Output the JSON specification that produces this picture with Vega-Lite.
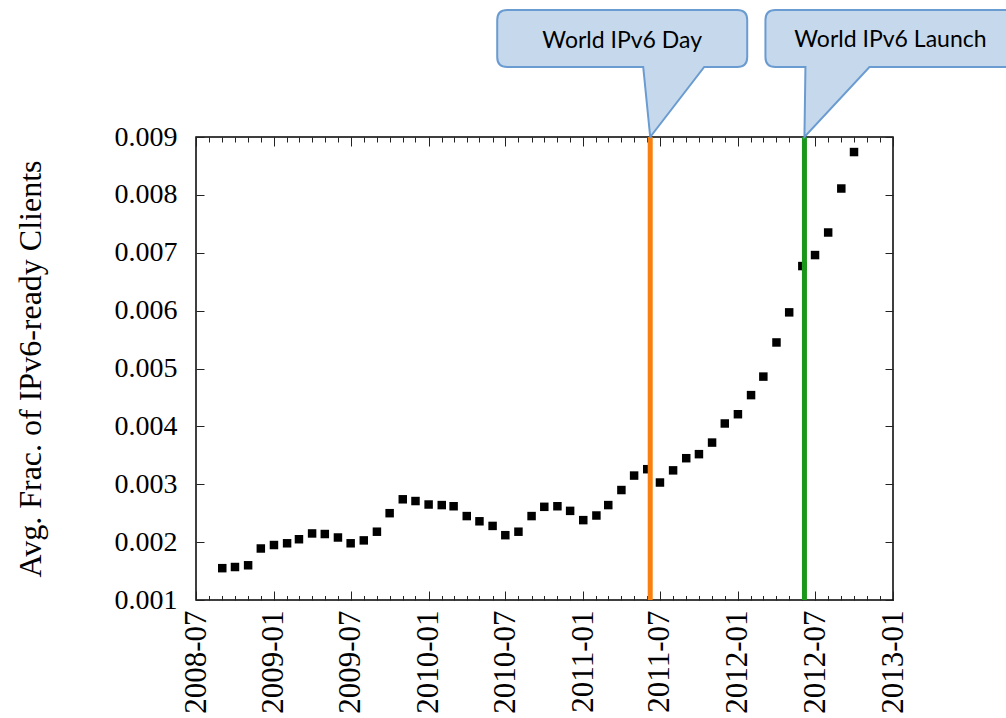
{
  "$schema": "https://vega.github.io/schema/vega-lite/v6.json",
  "width": 697,
  "height": 463,
  "autosize": {"type": "none"},
  "padding": {"left": 196, "top": 137, "right": 113, "bottom": 118},
  "background": "white",
  "config": {
    "view": {"stroke": "#000", "strokeWidth": 1.5},
    "axis": {
      "grid": false,
      "domain": false,
      "labelFont": "Liberation Serif",
      "titleFont": "Liberation Serif",
      "labelColor": "#000",
      "titleColor": "#000",
      "tickColor": "#222",
      "tickWidth": 1,
      "labelFlush": false,
      "labelOverlap": false,
      "labelBound": false,
      "titleFontWeight": "normal"
    }
  },
  "datasets": {
    "ipv6": [
      {"month": "2008-09-01", "frac": 0.00155},
      {"month": "2008-10-01", "frac": 0.00157},
      {"month": "2008-11-01", "frac": 0.00160},
      {"month": "2008-12-01", "frac": 0.00189},
      {"month": "2009-01-01", "frac": 0.00195},
      {"month": "2009-02-01", "frac": 0.00198},
      {"month": "2009-03-01", "frac": 0.00205},
      {"month": "2009-04-01", "frac": 0.00215},
      {"month": "2009-05-01", "frac": 0.00214},
      {"month": "2009-06-01", "frac": 0.00208},
      {"month": "2009-07-01", "frac": 0.00198},
      {"month": "2009-08-01", "frac": 0.00203},
      {"month": "2009-09-01", "frac": 0.00218},
      {"month": "2009-10-01", "frac": 0.00250},
      {"month": "2009-11-01", "frac": 0.00274},
      {"month": "2009-12-01", "frac": 0.00271},
      {"month": "2010-01-01", "frac": 0.00265},
      {"month": "2010-02-01", "frac": 0.00264},
      {"month": "2010-03-01", "frac": 0.00262},
      {"month": "2010-04-01", "frac": 0.00245},
      {"month": "2010-05-01", "frac": 0.00236},
      {"month": "2010-06-01", "frac": 0.00228},
      {"month": "2010-07-01", "frac": 0.00212},
      {"month": "2010-08-01", "frac": 0.00218},
      {"month": "2010-09-01", "frac": 0.00245},
      {"month": "2010-10-01", "frac": 0.00261},
      {"month": "2010-11-01", "frac": 0.00262},
      {"month": "2010-12-01", "frac": 0.00254},
      {"month": "2011-01-01", "frac": 0.00238},
      {"month": "2011-02-01", "frac": 0.00246},
      {"month": "2011-03-01", "frac": 0.00264},
      {"month": "2011-04-01", "frac": 0.00290},
      {"month": "2011-05-01", "frac": 0.00315},
      {"month": "2011-06-01", "frac": 0.00326},
      {"month": "2011-07-01", "frac": 0.00303},
      {"month": "2011-08-01", "frac": 0.00324},
      {"month": "2011-09-01", "frac": 0.00345},
      {"month": "2011-10-01", "frac": 0.00352},
      {"month": "2011-11-01", "frac": 0.00372},
      {"month": "2011-12-01", "frac": 0.00405},
      {"month": "2012-01-01", "frac": 0.00421},
      {"month": "2012-02-01", "frac": 0.00454},
      {"month": "2012-03-01", "frac": 0.00486},
      {"month": "2012-04-01", "frac": 0.00545},
      {"month": "2012-05-01", "frac": 0.00597},
      {"month": "2012-06-01", "frac": 0.00677},
      {"month": "2012-07-01", "frac": 0.00696},
      {"month": "2012-08-01", "frac": 0.00735},
      {"month": "2012-09-01", "frac": 0.00811},
      {"month": "2012-10-01", "frac": 0.00874}
    ],
    "events": [
      {"event": "World IPv6 Day", "date": "2011-06-08"},
      {"event": "World IPv6 Launch", "date": "2012-06-06"}
    ]
  },
  "layer": [
    {
      "data": {"name": "ipv6"},
      "mark": {"type": "point", "shape": "square", "filled": true, "size": 72, "color": "#000", "opacity": 1},
      "encoding": {
        "x": {
          "field": "month", "type": "temporal",
          "scale": {"type": "utc", "nice": false, "domain": [{"year": 2008, "month": 7, "date": 1, "utc": true}, {"year": 2013, "month": 1, "date": 1, "utc": true}]},
          "axis": {"orient": "bottom", "ticks": false, "title": null, "format": "%Y-%m", "tickCount": {"interval": "month", "step": 6}, "labelAngle": 270, "labelAlign": "right", "labelBaseline": "middle", "labelFontSize": 31, "labelPadding": 10}
        },
        "y": {
          "field": "frac", "type": "quantitative",
          "scale": {"domain": [0.001, 0.009], "nice": false, "zero": false},
          "axis": {"orient": "left", "ticks": false, "values": [0.001, 0.002, 0.003, 0.004, 0.005, 0.006, 0.007, 0.008, 0.009], "format": ".3f", "labelFontSize": 28, "labelPadding": 19, "labelBaseline": "middle", "title": "Avg. Frac. of IPv6-ready Clients", "titleFontSize": 32, "titleAngle": 270, "titleX": -166, "titleY": 231.5, "titleAlign": "center", "titleBaseline": "middle"}
        }
      }
    },
    {
      "data": {"name": "ipv6"},
      "mark": {"type": "point", "opacity": 0},
      "encoding": {
        "x": {
          "field": "month", "type": "temporal",
          "scale": {"type": "utc", "nice": false, "domain": [{"year": 2008, "month": 7, "date": 1, "utc": true}, {"year": 2013, "month": 1, "date": 1, "utc": true}]},
          "axis": {"orient": "bottom", "labels": false, "title": null, "tickCount": {"interval": "month", "step": 6}, "tickSize": -9}
        },
        "y": {
          "field": "frac", "type": "quantitative",
          "scale": {"domain": [0.001, 0.009], "nice": false, "zero": false},
          "axis": {"orient": "left", "labels": false, "title": null, "values": [0.001, 0.002, 0.003, 0.004, 0.005, 0.006, 0.007, 0.008, 0.009], "tickSize": -8}
        }
      }
    },
    {
      "data": {"name": "ipv6"},
      "mark": {"type": "point", "opacity": 0},
      "encoding": {
        "x": {
          "field": "month", "type": "temporal",
          "scale": {"type": "utc", "nice": false, "domain": [{"year": 2008, "month": 7, "date": 1, "utc": true}, {"year": 2013, "month": 1, "date": 1, "utc": true}]},
          "axis": {"orient": "bottom", "labels": false, "title": null, "tickCount": {"interval": "month", "step": 1}, "tickSize": -4.5}
        },
        "y": {
          "field": "frac", "type": "quantitative",
          "scale": {"domain": [0.001, 0.009], "nice": false, "zero": false},
          "axis": {"orient": "right", "labels": false, "title": null, "values": [0.001, 0.002, 0.003, 0.004, 0.005, 0.006, 0.007, 0.008, 0.009], "tickSize": -8}
        }
      }
    },
    {
      "data": {"name": "ipv6"},
      "mark": {"type": "point", "opacity": 0},
      "encoding": {
        "x": {
          "field": "month", "type": "temporal",
          "scale": {"type": "utc", "nice": false, "domain": [{"year": 2008, "month": 7, "date": 1, "utc": true}, {"year": 2013, "month": 1, "date": 1, "utc": true}]},
          "axis": {"orient": "top", "labels": false, "title": null, "tickCount": {"interval": "month", "step": 6}, "tickSize": -9}
        },
        "y": {
          "field": "frac", "type": "quantitative",
          "scale": {"domain": [0.001, 0.009], "nice": false, "zero": false},
          "axis": null
        }
      }
    },
    {
      "data": {"name": "events"},
      "mark": {"type": "rule", "strokeWidth": 5},
      "encoding": {
        "x": {
          "field": "date", "type": "temporal",
          "scale": {"type": "utc", "nice": false, "domain": [{"year": 2008, "month": 7, "date": 1, "utc": true}, {"year": 2013, "month": 1, "date": 1, "utc": true}]},
          "axis": {"orient": "top", "labels": false, "title": null, "tickCount": {"interval": "month", "step": 1}, "tickSize": -5}
        },
        "color": {"field": "event", "type": "nominal", "scale": {"domain": ["World IPv6 Day", "World IPv6 Launch"], "range": ["#f9800f", "#1a961a"]}, "legend": null}
      }
    },
    {
      "data": {"name": "events"},
      "transform": [{"filter": "datum.event === 'World IPv6 Day'"}],
      "mark": {"type": "point", "filled": true, "fill": "#c6d9ec", "stroke": "#6a9bd1", "strokeWidth": 2, "opacity": 1, "size": 4,
        "shape": "M -143 -127 L 87 -127 Q 97 -127 97 -117 L 97 -80 Q 97 -70 87 -70 L 54 -70 L 0 0 L -7 -70 L -143 -70 Q -153 -70 -153 -80 L -153 -117 Q -153 -127 -143 -127 Z"},
      "encoding": {
        "x": {"field": "date", "type": "temporal", "axis": null, "scale": {"type": "utc", "nice": false, "domain": [{"year": 2008, "month": 7, "date": 1, "utc": true}, {"year": 2013, "month": 1, "date": 1, "utc": true}]}},
        "y": {"datum": 0.009, "type": "quantitative", "axis": null, "scale": {"domain": [0.001, 0.009], "nice": false, "zero": false}}
      }
    },
    {
      "data": {"name": "events"},
      "transform": [{"filter": "datum.event === 'World IPv6 Launch'"}],
      "mark": {"type": "point", "filled": true, "fill": "#c6d9ec", "stroke": "#6a9bd1", "strokeWidth": 2, "opacity": 1, "size": 4,
        "shape": "M -29 -127 L 220 -127 Q 230 -127 230 -117 L 230 -80 Q 230 -70 220 -70 L 65 -70 L 0 0 L 1 -70 L -29 -70 Q -39 -70 -39 -80 L -39 -117 Q -39 -127 -29 -127 Z"},
      "encoding": {
        "x": {"field": "date", "type": "temporal", "axis": null, "scale": {"type": "utc", "nice": false, "domain": [{"year": 2008, "month": 7, "date": 1, "utc": true}, {"year": 2013, "month": 1, "date": 1, "utc": true}]}},
        "y": {"datum": 0.009, "type": "quantitative", "axis": null, "scale": {"domain": [0.001, 0.009], "nice": false, "zero": false}}
      }
    },
    {
      "data": {"name": "events"},
      "transform": [{"filter": "datum.event === 'World IPv6 Day'"}],
      "mark": {"type": "text", "font": "Lato", "fontSize": 23, "color": "#000", "align": "center", "baseline": "middle", "dx": -28, "dy": -96},
      "encoding": {
        "x": {"field": "date", "type": "temporal", "axis": null, "scale": {"type": "utc", "nice": false, "domain": [{"year": 2008, "month": 7, "date": 1, "utc": true}, {"year": 2013, "month": 1, "date": 1, "utc": true}]}},
        "y": {"datum": 0.009, "type": "quantitative", "axis": null, "scale": {"domain": [0.001, 0.009], "nice": false, "zero": false}},
        "text": {"field": "event"}
      }
    },
    {
      "data": {"name": "events"},
      "transform": [{"filter": "datum.event === 'World IPv6 Launch'"}],
      "mark": {"type": "text", "font": "Lato", "fontSize": 23, "color": "#000", "align": "center", "baseline": "middle", "dx": 86, "dy": -97},
      "encoding": {
        "x": {"field": "date", "type": "temporal", "axis": null, "scale": {"type": "utc", "nice": false, "domain": [{"year": 2008, "month": 7, "date": 1, "utc": true}, {"year": 2013, "month": 1, "date": 1, "utc": true}]}},
        "y": {"datum": 0.009, "type": "quantitative", "axis": null, "scale": {"domain": [0.001, 0.009], "nice": false, "zero": false}},
        "text": {"field": "event"}
      }
    }
  ],
  "resolve": {"axis": {"x": "independent", "y": "independent"}}
}
